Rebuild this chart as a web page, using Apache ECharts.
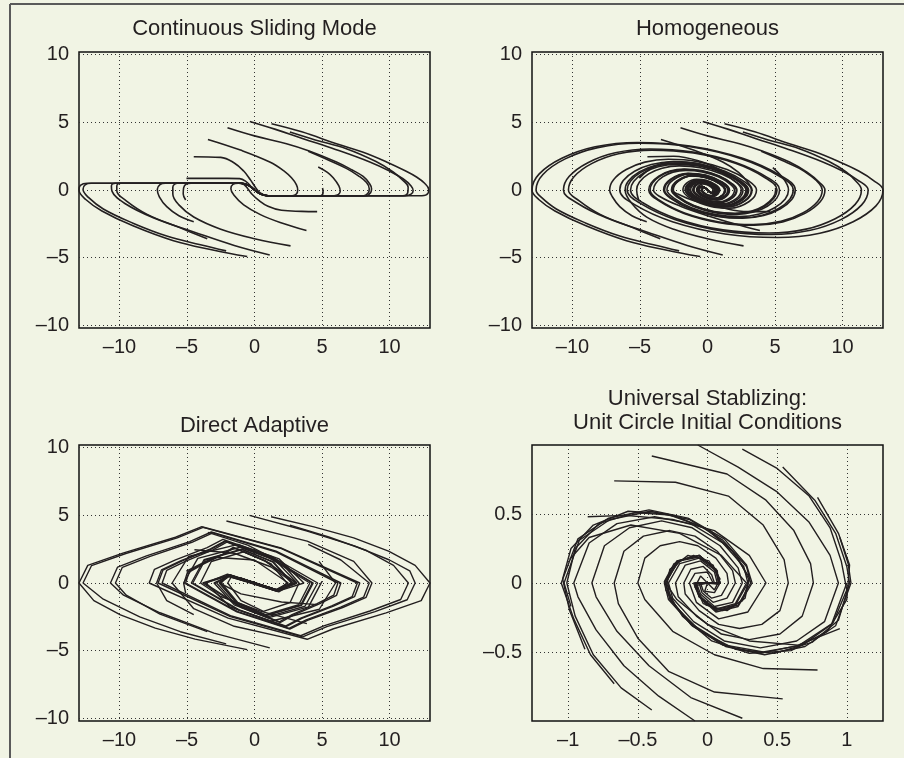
<!DOCTYPE html>
<html>
<head>
<meta charset="utf-8">
<script src="https://cdn.jsdelivr.net/npm/echarts@6.0.0/dist/echarts.min.js"></script>
<style>
html,body{margin:0;padding:0;background:#f1f4e4;}
#chart{width:904px;height:758px;}
</style>
</head>
<body>
<div id="chart"></div>
<script>
// ---------- titles and ticks ----------
const panelTitles = ['Continuous Sliding Mode', 'Homogeneous', 'Direct Adaptive', 'Universal Stablizing:\nUnit Circle Initial Conditions'];
const bigTicks = [-10, -5, 0, 5, 10];
const unitXTicks = [-1, -0.5, 0, 0.5, 1];
const unitYTicks = [-0.5, 0, 0.5];

// ---------- panel 1: continuous sliding mode ----------
const slidingPaths = [
 [[1.26,4.9],[3.5,4.3],[6.07,3.42],[8,2.8],[9.78,2.07],[11.2,1.4],[12.0,0.96],[12.6,0.5],[12.9,0.05],[12.85,-0.25],[12.4,-0.42],[1.0,-0.42],[0.45,-0.3],[0,0]],
 [[-0.35,5.07],[1.5,4.5],[3.6,3.79],[6,3.0],[8.54,2.07],[10,1.4],[11.0,0.83],[11.6,0.3],[11.75,-0.05],[11.6,-0.3],[11.2,-0.42],[1.0,-0.42],[0.45,-0.3],[0,0]],
 [[2.62,4.28],[4.5,3.7],[6.8,3.05],[9,2.1],[10.27,1.33],[11.0,0.7],[11.38,0.2],[11.35,-0.2],[11.0,-0.42],[1.0,-0.42],[0.45,-0.3],[0,0]],
 [[-2.0,4.6],[0,4.0],[2.37,3.42],[4,2.9],[6.07,2.07],[7.2,1.5],[8.05,1.0],[8.5,0.5],[8.67,0.1],[8.6,-0.2],[8.3,-0.42],[1.0,-0.42],[0.45,-0.3],[0,0]],
 [[3.98,2.86],[5.5,2.2],[6.8,1.6],[7.7,1.05],[8.3,0.55],[8.5,0.1],[8.42,-0.22],[8.1,-0.42],[1.0,-0.42],[0.45,-0.3],[0,0]],
 [[4.72,1.7],[5.4,1.3],[5.83,0.9],[6.25,0.3],[6.35,-0.1],[6.2,-0.35],[5.9,-0.42],[1.0,-0.42],[0.45,-0.3],[0,0]],
 [[5.04,0.15],[5.08,-0.15],[4.9,-0.42],[1.0,-0.42],[0.45,-0.3],[0,0]],
 [[-3.45,3.74],[-1.04,2.95],[1.13,2.07],[2.2,1.4],[2.74,0.9],[3.1,0.4],[3.2,0],[3.1,-0.3],[2.8,-0.42],[1.0,-0.42],[0.45,-0.3],[0,0]],
 [[-4.5,2.46],[-2.5,2.41],[-1.5,2.0],[-0.8,1.4],[-0.3,0.75],[0.1,0.15],[0.4,-0.2],[0.75,-0.38],[1.1,-0.42]],
 [[-5.04,0.86],[-2,0.86],[-1.1,0.84],[-0.6,0.6],[-0.2,0.2],[0,0]],
 [[-0.54,-4.92],[-3,-4.45],[-6,-3.75],[-9,-2.65],[-11.3,-1.55],[-12.5,-0.7],[-13,0],[-12.9,0.35],[-12.4,0.5],[-1.0,0.5],[-0.45,0.35],[0,0]],
 [[-2.1,-4.5],[-4,-4.05],[-6.5,-3.4],[-9,-2.45],[-11.2,-1.4],[-12.3,-0.55],[-12.7,0.05],[-12.55,0.38],[-12.1,0.5],[-1.0,0.5],[-0.45,0.35],[0,0]],
 [[1.13,-4.8],[-1.5,-4.1],[-4.5,-3.1],[-7.5,-2.05],[-9.6,-1.0],[-10.55,-0.1],[-10.6,0.3],[-10.3,0.5],[-1.0,0.5],[-0.45,0.35],[0,0]],
 [[-3.5,-3.6],[-5.5,-2.8],[-7.95,-1.8],[-9.5,-0.8],[-10.2,-0.05],[-10.2,0.3],[-9.9,0.5],[-1.0,0.5],[-0.45,0.35],[0,0]],
 [[2.67,-4.13],[0,-3.6],[-2.5,-2.9],[-4.5,-2.0],[-5.6,-1.1],[-6.05,-0.3],[-6.05,0.2],[-5.7,0.5],[-1.0,0.5],[-0.45,0.35],[0,0]],
 [[-4.5,-2.34],[-5.6,-1.9],[-6.5,-1.23],[-7.05,-0.5],[-7.2,0.05],[-7.0,0.4],[-6.6,0.5],[-1.0,0.5],[-0.45,0.35],[0,0]],
 [[-5.1,-0.74],[-5.28,-0.3],[-5.25,0.15],[-5.05,0.45],[-4.7,0.5],[-1.0,0.5],[-0.45,0.35],[0,0]],
 [[3.85,-3.0],[1.9,-2.4],[0.4,-1.8],[-0.8,-1.1],[-1.5,-0.4],[-1.75,0.1],[-1.6,0.42],[-1.2,0.5],[-0.45,0.35],[0,0]],
 [[4.64,-1.6],[3.5,-1.58],[2,-1.5],[1.0,-1.2],[0.3,-0.75],[-0.2,-0.3],[-0.5,0.1],[-0.8,0.42],[-1.1,0.5]]
];

// ---------- panel 2: homogeneous ----------
const homogeneousPaths = [
 [[1.26,4.9],[3.5,4.3],[6.07,3.42],[8,2.8],[9.78,2.07],[11.2,1.4],[12.3,0.7],[13,0],[12.48,-1.17],[10.79,-2.34],[8.32,-3.19],[5.2,-3.51],[1.3,-3.25],[-2.6,-2.34],[-5.46,-1.04],[-6.5,0],[-6.24,0.7],[-5.4,1.39],[-4.16,1.89],[-2.6,2.09],[-0.65,1.93],[1.3,1.39],[2.73,0.62],[3.25,0],[2.76,-0.78],[1.46,-1.24],[0.16,-1.1],[-1.07,-0.6],[-1.63,0],[-1.39,0.47],[-0.73,0.74],[-0.08,0.66],[0.54,0.36],[0.81,0],[0.69,-0.28],[0.36,-0.44],[0.04,-0.39],[-0.27,-0.21],[-0.41,0],[-0.25,0.2],[0,0]],
 [[-0.35,5.07],[1.5,4.5],[3.6,3.79],[6,3.0],[8.54,2.07],[10,1.4],[11.1,0.75],[11.9,0],[11.42,-1.1],[9.88,-2.19],[7.62,-2.98],[4.76,-3.29],[1.19,-3.04],[-2.38,-2.19],[-5.0,-0.97],[-5.95,0],[-5.71,0.65],[-4.94,1.3],[-3.81,1.77],[-2.38,1.95],[-0.6,1.81],[1.19,1.3],[2.5,0.58],[2.98,0],[2.53,-0.73],[1.34,-1.16],[0.15,-1.03],[-0.98,-0.56],[-1.49,0],[-1.27,0.44],[-0.67,0.69],[-0.07,0.61],[0.49,0.33],[0.75,0],[0.64,-0.26],[0.34,-0.41],[0.04,-0.37],[-0.25,-0.2],[-0.38,0],[-0.22,0.18],[0,0]],
 [[2.62,4.28],[4.5,3.7],[6.8,3.05],[9,2.1],[10.27,1.33],[11.0,0.65],[11.4,0],[10.94,-1.06],[9.46,-2.12],[7.3,-2.89],[4.56,-3.18],[1.14,-2.95],[-2.28,-2.12],[-4.79,-0.94],[-5.7,0],[-5.47,0.63],[-4.73,1.26],[-3.65,1.72],[-2.28,1.89],[-0.57,1.75],[1.14,1.26],[2.39,0.56],[2.85,0],[2.42,-0.71],[1.28,-1.13],[0.14,-1.0],[-0.94,-0.54],[-1.43,0],[-1.22,0.42],[-0.64,0.67],[-0.07,0.6],[0.47,0.32],[0.72,0],[0.45,-0.3],[0,0]],
 [[-2.0,4.6],[0,4.0],[2.37,3.42],[4,2.9],[6.07,2.07],[7.4,1.3],[8.3,0.55],[8.7,0],[8.35,-0.87],[7.22,-1.73],[5.57,-2.36],[3.48,-2.6],[0.87,-2.41],[-1.74,-1.73],[-3.65,-0.77],[-4.35,0],[-4.18,0.51],[-3.61,1.03],[-2.78,1.4],[-1.74,1.54],[-0.44,1.43],[0.87,1.03],[1.83,0.46],[2.18,0],[1.85,-0.58],[0.98,-0.92],[0.11,-0.82],[-0.72,-0.44],[-1.09,0],[-0.93,0.35],[-0.49,0.55],[-0.05,0.49],[0.36,0.26],[0.55,0],[0.35,-0.22],[0,0]],
 [[3.98,2.86],[5.5,2.2],[6.8,1.6],[7.7,1.0],[8.3,0.45],[8.5,0],[8.16,-0.85],[7.06,-1.7],[5.44,-2.32],[3.4,-2.55],[0.85,-2.36],[-1.7,-1.7],[-3.57,-0.76],[-4.25,0],[-4.08,0.51],[-3.53,1.01],[-2.72,1.38],[-1.7,1.52],[-0.43,1.41],[0.85,1.01],[1.79,0.45],[2.13,0],[1.81,-0.57],[0.96,-0.9],[0.11,-0.8],[-0.7,-0.44],[-1.07,0],[-0.91,0.34],[-0.48,0.54],[-0.05,0.48],[0.35,0.26],[0.54,0],[0.33,-0.2],[0,0]],
 [[4.84,1.65],[5.5,1.0],[5.9,0.4],[6.0,0],[5.76,-0.66],[4.98,-1.31],[3.84,-1.78],[2.4,-1.97],[0.6,-1.82],[-1.2,-1.31],[-2.52,-0.58],[-3.0,0],[-2.55,0.74],[-1.35,1.17],[-0.15,1.04],[0.99,0.56],[1.5,0],[1.28,-0.44],[0.68,-0.69],[0.08,-0.62],[-0.5,-0.33],[-0.75,0],[-0.45,0.28],[0,0]],
 [[5.04,0.15],[5.05,0],[4.85,-0.58],[4.19,-1.15],[3.23,-1.57],[2.02,-1.73],[0.51,-1.6],[-1.01,-1.15],[-2.12,-0.51],[-2.53,0],[-2.15,0.65],[-1.14,1.03],[-0.13,0.91],[0.83,0.5],[1.27,0],[1.08,-0.39],[0.57,-0.61],[0.06,-0.54],[-0.42,-0.3],[-0.64,0],[-0.38,0.25],[0,0]],
 [[-3.45,3.74],[-1.04,2.95],[1.13,2.07],[2.3,1.3],[3.0,0.55],[3.3,0],[2.81,-0.79],[1.49,-1.26],[0.17,-1.12],[-1.09,-0.6],[-1.65,0],[-1.4,0.47],[-0.74,0.75],[-0.08,0.66],[0.54,0.36],[0.83,0],[0.5,-0.3],[0,0]],
 [[-4.45,2.46],[-2.5,2.5],[-0.5,2.1],[1.3,1.3],[2.5,0.5],[2.9,0],[2.47,-0.72],[1.31,-1.14],[0.15,-1.01],[-0.96,-0.55],[-1.45,0],[-1.23,0.43],[-0.65,0.68],[-0.07,0.6],[0.48,0.33],[0.73,0],[0.45,-0.28],[0,0]],
 [[-5.05,0.88],[-4,1.7],[-2.5,2.1],[-0.5,1.9],[1.2,1.2],[2.2,0.5],[2.5,0],[2.13,-0.64],[1.13,-1.02],[0.13,-0.91],[-0.83,-0.49],[-1.25,0],[-1.06,0.38],[-0.56,0.6],[-0.06,0.54],[0.41,0.29],[0.63,0],[0.38,-0.25],[0,0]],
 [[-0.54,-4.92],[-3,-4.45],[-6,-3.75],[-9,-2.65],[-11.3,-1.55],[-12.5,-0.7],[-13,0],[-12.48,1.17],[-10.79,2.34],[-8.32,3.19],[-5.2,3.51],[-1.3,3.25],[2.6,2.34],[5.46,1.04],[6.5,0],[6.24,-0.7],[5.4,-1.39],[4.16,-1.89],[2.6,-2.09],[0.65,-1.93],[-1.3,-1.39],[-2.73,-0.62],[-3.25,0],[-2.76,0.78],[-1.46,1.24],[-0.16,1.1],[1.07,0.6],[1.63,0],[1.39,-0.47],[0.73,-0.74],[0.08,-0.66],[-0.54,-0.36],[-0.81,0],[-0.69,0.28],[-0.36,0.44],[-0.04,0.39],[0.27,0.21],[0.41,0],[0.25,-0.2],[0,0]],
 [[-2.1,-4.5],[-4,-4.05],[-6.5,-3.4],[-9,-2.45],[-11.2,-1.4],[-12.3,-0.55],[-12.7,0],[-12.19,1.15],[-10.54,2.3],[-8.13,3.13],[-5.08,3.45],[-1.27,3.2],[2.54,2.3],[5.33,1.02],[6.35,0],[6.1,-0.68],[5.27,-1.37],[4.06,-1.86],[2.54,-2.05],[0.64,-1.9],[-1.27,-1.37],[-2.67,-0.61],[-3.18,0],[-2.7,0.77],[-1.43,1.22],[-0.16,1.08],[1.05,0.59],[1.59,0],[1.35,-0.46],[0.72,-0.73],[0.08,-0.65],[-0.52,-0.35],[-0.8,0],[-0.48,0.3],[0,0]],
 [[1.13,-4.8],[-1.5,-4.1],[-4.5,-3.1],[-7.5,-2.05],[-9.6,-1.0],[-10.67,0],[-10.24,1.01],[-8.86,2.02],[-6.83,2.75],[-4.27,3.03],[-1.07,2.8],[2.13,2.02],[4.48,0.9],[5.34,0],[5.13,-0.6],[4.43,-1.2],[3.42,-1.63],[2.14,-1.8],[0.53,-1.67],[-1.07,-1.2],[-2.24,-0.53],[-2.67,0],[-2.27,0.67],[-1.2,1.07],[-0.13,0.95],[0.88,0.52],[1.34,0],[1.14,-0.4],[0.6,-0.64],[0.07,-0.57],[-0.44,-0.31],[-0.67,0],[-0.4,0.26],[0,0]],
 [[-3.5,-3.6],[-5.5,-2.8],[-7.95,-1.8],[-9.5,-0.8],[-10.3,0],[-9.89,0.98],[-8.55,1.97],[-6.59,2.68],[-4.12,2.95],[-1.03,2.73],[2.06,1.97],[4.33,0.87],[5.15,0],[4.94,-0.58],[4.27,-1.17],[3.3,-1.59],[2.06,-1.75],[0.52,-1.62],[-1.03,-1.17],[-2.16,-0.52],[-2.58,0],[-2.19,0.66],[-1.16,1.04],[-0.13,0.93],[0.85,0.5],[1.29,0],[1.1,-0.39],[0.58,-0.62],[0.06,-0.55],[-0.43,-0.3],[-0.65,0],[-0.38,0.25],[0,0]],
 [[2.67,-4.13],[0,-3.6],[-2.5,-2.9],[-4.5,-2.0],[-5.6,-1.0],[-6.1,0],[-5.86,0.66],[-5.06,1.33],[-3.9,1.81],[-2.44,1.99],[-0.61,1.84],[1.22,1.33],[2.56,0.59],[3.05,0],[2.59,-0.74],[1.37,-1.18],[0.15,-1.05],[-1.01,-0.57],[-1.53,0],[-1.3,0.44],[-0.69,0.7],[-0.08,0.63],[0.5,0.34],[0.77,0],[0.48,-0.3],[0,0]],
 [[-4.5,-2.34],[-5.6,-1.9],[-6.5,-1.23],[-7.05,-0.5],[-7.25,0],[-6.96,0.76],[-6.02,1.51],[-4.64,2.06],[-2.9,2.27],[-0.73,2.1],[1.45,1.51],[3.05,0.67],[3.63,0],[3.09,-0.85],[1.63,-1.35],[0.18,-1.2],[-1.2,-0.65],[-1.82,0],[-1.55,0.51],[-0.82,0.8],[-0.09,0.72],[0.6,0.39],[0.91,0],[0.77,-0.3],[0.41,-0.48],[0.05,-0.42],[-0.3,-0.23],[-0.46,0],[-0.27,0.2],[0,0]],
 [[-5.1,-0.74],[-5.25,0],[-5.04,0.59],[-4.36,1.19],[-3.36,1.61],[-2.1,1.78],[-0.53,1.65],[1.05,1.19],[2.21,0.53],[2.63,0],[2.24,-0.67],[1.18,-1.06],[0.13,-0.94],[-0.87,-0.51],[-1.32,0],[-1.12,0.4],[-0.59,0.63],[-0.07,0.56],[0.44,0.3],[0.66,0],[0.4,-0.26],[0,0]],
 [[3.88,-3.0],[2,-2.5],[0,-1.9],[-2,-1.2],[-3.5,-0.5],[-4.0,0],[-3.84,0.48],[-3.32,0.97],[-2.56,1.32],[-1.6,1.45],[-0.4,1.34],[0.8,0.97],[1.68,0.43],[2.0,0],[1.7,-0.54],[0.9,-0.86],[0.1,-0.77],[-0.66,-0.41],[-1.0,0],[-0.85,0.32],[-0.45,0.51],[-0.05,0.46],[0.33,0.25],[0.5,0],[0.3,-0.2],[0,0]],
 [[4.66,-1.6],[3,-1.6],[1,-1.3],[-1,-0.8],[-2.2,-0.3],[-2.6,0],[-2.21,0.66],[-1.17,1.05],[-0.13,0.93],[0.86,0.51],[1.3,0],[1.11,-0.39],[0.59,-0.62],[0.07,-0.55],[-0.43,-0.3],[-0.65,0],[-0.4,0.25],[0,0]]
];

// ---------- panel 3: direct adaptive ----------
const adaptivePaths = [
 [[1.23,4.9],[4.4,4.15],[7.35,3.34],[9.93,2.35],[11.9,1.3],[13,0],[12.35,-1.3],[9.75,-2.21],[5.85,-3.38],[3.9,-4.16],[-1.95,-2.6],[-7.8,0],[-7.41,1.01],[-5.85,1.71],[-3.51,2.62],[-2.34,3.22],[1.17,2.01],[4.68,0],[3.74,-1.72],[0.94,-2.5],[-1.4,-1.56],[-2.81,0],[-1.9,0.6],[1.7,-0.55],[-1.0,0.35],[0.6,-0.2],[-0.1,0]],
 [[-0.37,5.0],[3.9,3.84],[7.4,2.75],[10.0,1.7],[11.5,0.9],[11.9,0],[11.31,-1.24],[8.93,-2.11],[5.36,-3.23],[3.57,-3.98],[-1.79,-2.49],[-7.14,0],[-6.78,0.96],[-5.36,1.64],[-3.21,2.5],[-2.14,3.08],[1.07,1.93],[4.28,0],[3.42,-1.64],[0.86,-2.39],[-1.28,-1.49],[-2.57,0],[-1.8,0.55],[1.6,-0.5],[-0.9,0.3],[0.5,-0.15],[0,0]],
 [[2.62,4.28],[5.5,3.4],[8.3,2.4],[10.3,1.3],[11.4,0],[10.83,-1.22],[8.55,-2.07],[5.13,-3.17],[3.42,-3.9],[-1.71,-2.44],[-6.84,0],[-6.5,0.94],[-5.13,1.6],[-3.08,2.45],[-2.05,3.02],[1.03,1.89],[4.1,0],[3.28,-1.61],[0.82,-2.34],[-1.23,-1.46],[-2.46,0],[-1.95,0.6],[1.75,-0.6],[-1.1,0.4],[0.7,-0.25],[-0.1,0.05]],
 [[-2.08,4.58],[3.9,3.1],[7.35,1.6],[8.7,0],[8.27,-1.06],[6.53,-1.81],[3.92,-2.76],[2.61,-3.4],[-1.31,-2.13],[-5.22,0],[-4.96,0.82],[-3.92,1.4],[-2.35,2.14],[-1.57,2.64],[0.78,1.65],[3.13,0],[1.7,-0.6],[-1.9,0.55],[1.0,-0.35],[-0.6,0.2],[0.1,0]],
 [[3.98,2.86],[6.4,1.7],[8.5,0],[8.08,-1.05],[6.38,-1.79],[3.83,-2.73],[2.55,-3.36],[-1.28,-2.1],[-5.1,0],[-4.85,0.81],[-3.83,1.38],[-2.3,2.12],[-1.53,2.6],[0.77,1.63],[3.06,0],[1.6,-0.55],[-1.8,0.5],[1.1,-0.4],[-0.5,0.15],[0,0]],
 [[4.78,1.6],[6.0,0],[4.8,-1.94],[1.2,-2.83],[-1.8,-1.77],[-3.6,0],[-2.0,0.65],[1.8,-0.6],[-1.2,0.4],[0.6,-0.2],[0,0]],
 [[5.0,0.12],[4.0,-1.77],[1.0,-2.58],[-1.5,-1.61],[-3.0,0],[-1.85,0.55],[1.65,-0.5],[-1.0,0.3],[0.4,-0.1],[0,0]],
 [[-3.45,3.74],[-0.5,2.8],[2.0,1.5],[3.3,0],[2.64,-1.44],[0.66,-2.1],[-0.99,-1.31],[-1.98,0],[-1.7,0.5],[1.5,-0.45],[-0.8,0.25],[0,0]],
 [[-4.45,2.46],[-1.5,2.2],[1.2,1.2],[2.9,0],[1.8,-0.65],[-1.9,0.5],[1.2,-0.35],[-0.5,0.15],[0,0]],
 [[-5.05,0.88],[-3,1.9],[0,1.7],[2.5,0],[1.5,-0.55],[-2.0,0.6],[0.9,-0.3],[-0.4,0.1],[0,0]],
 [[-0.54,-4.92],[-4.4,-4.15],[-7.35,-3.34],[-9.93,-2.35],[-11.9,-1.3],[-13,0],[-12.35,1.3],[-9.75,2.21],[-5.85,3.38],[-3.9,4.16],[1.95,2.6],[7.8,0],[7.41,-1.01],[5.85,-1.71],[3.51,-2.62],[2.34,-3.22],[-1.17,-2.01],[-4.68,0],[-3.74,1.72],[-0.94,2.5],[1.4,1.56],[2.81,0],[1.7,-0.6],[-1.9,0.55],[1.0,-0.35],[-0.6,0.2],[0.1,0]],
 [[-2.1,-4.5],[-5.5,-3.6],[-8.5,-2.5],[-11.2,-1.2],[-12.7,0],[-12.07,1.29],[-9.53,2.18],[-5.72,3.34],[-3.81,4.11],[1.91,2.57],[7.62,0],[7.24,-1.0],[5.72,-1.69],[3.43,-2.59],[2.29,-3.18],[-1.14,-1.99],[-4.57,0],[-3.66,1.7],[-0.91,2.47],[1.37,1.54],[2.74,0],[1.6,-0.5],[-1.8,0.6],[1.1,-0.4],[-0.5,0.15],[0,0]],
 [[1.13,-4.8],[-3,-3.7],[-7,-2.2],[-9.7,-0.9],[-10.67,0],[-10.14,1.18],[-8.0,2.0],[-4.8,3.06],[-3.2,3.77],[1.6,2.36],[6.4,0],[6.08,-0.91],[4.8,-1.55],[2.88,-2.37],[1.92,-2.92],[-0.96,-1.82],[-3.84,0],[-1.9,0.6],[1.7,-0.55],[-1.0,0.35],[0.6,-0.2],[-0.1,0]],
 [[-3.5,-3.6],[-7,-2.3],[-9.5,-0.9],[-10.3,0],[-9.79,1.16],[-7.73,1.97],[-4.64,3.01],[-3.09,3.7],[1.55,2.31],[6.18,0],[5.87,-0.9],[4.64,-1.52],[2.78,-2.33],[1.85,-2.87],[-0.93,-1.79],[-3.71,0],[-2.0,0.5],[1.8,-0.55],[-1.1,0.3],[0.5,-0.15],[0,0]],
 [[2.67,-4.13],[-1.5,-3.2],[-4.5,-1.9],[-6.1,0],[-4.88,1.96],[-1.22,2.85],[1.83,1.78],[3.66,0],[1.75,-0.6],[-1.85,0.55],[1.1,-0.35],[-0.5,0.15],[0,0]],
 [[3.88,-3.0],[0.5,-2.1],[-2.5,-1.0],[-4.0,0],[-3.2,1.59],[-0.8,2.31],[1.2,1.44],[2.4,0],[1.7,-0.55],[-1.9,0.6],[1.0,-0.35],[-0.5,0.15],[0,0]],
 [[4.66,-1.6],[2.0,-1.4],[-1.0,-0.8],[-2.6,0],[-2.0,0.55],[1.6,-0.5],[-1.0,0.3],[0.5,-0.15],[0,0]],
 [[-4.5,-2.34],[-6.5,-1.3],[-7.25,0],[-6.89,0.97],[-5.44,1.65],[-3.26,2.52],[-2.18,3.11],[1.09,1.94],[4.35,0],[3.48,-1.65],[0.87,-2.41],[-1.31,-1.5],[-2.61,0],[-1.8,0.6],[1.6,-0.5],[-0.9,0.3],[0.4,-0.1],[0,0]],
 [[-5.1,-0.74],[-5.25,0],[-4.2,1.82],[-1.05,2.64],[1.58,1.65],[3.15,0],[1.6,-0.6],[-1.7,0.5],[0.9,-0.3],[-0.3,0.1],[0,0]]
];

// ---------- panel 4: universal stabilizing, unit circle initial conditions ----------
const universalPaths = [
 [[1.0,0],[0.89,-0.3],[0.68,-0.45],[0.4,-0.5],[0.13,-0.45],[-0.11,-0.3],[-0.27,-0.12],[-0.3,0],[-0.21,0.16],[-0.06,0.2],[0.06,0.1],[0.09,0],[0.05,-0.07],[-0.02,-0.06],[0,0]],
 [[0.95,0.33],[1.01,0.14],[1.03,0],[0.92,-0.31],[0.7,-0.46],[0.41,-0.52],[0.13,-0.46],[-0.11,-0.31],[-0.28,-0.12],[-0.31,0],[-0.22,0.16],[-0.06,0.2],[0.06,0.1],[0.09,0],[0,0]],
 [[0.79,0.62],[0.94,0.36],[1.02,0.13],[1.0,-0.12],[0.86,-0.35],[0.6,-0.49],[0.3,-0.51],[0.03,-0.42],[-0.18,-0.24],[-0.3,-0.05],[-0.27,0.1],[-0.14,0.2],[0.01,0.16],[0.09,0.03],[0.05,-0.05],[0,0]],
 [[0.54,0.84],[0.77,0.6],[0.92,0.36],[1.0,0.12],[1.02,0],[0.94,-0.27],[0.75,-0.43],[0.48,-0.51],[0.2,-0.48],[-0.05,-0.35],[-0.23,-0.17],[-0.31,0.01],[-0.24,0.14],[-0.1,0.2],[0.04,0.13],[0.09,0],[0,0]],
 [[0.25,0.97],[0.5,0.83],[0.73,0.63],[0.88,0.4],[0.96,0.16],[1.0,-0.05],[0.9,-0.29],[0.66,-0.45],[0.38,-0.51],[0.11,-0.45],[-0.12,-0.3],[-0.27,-0.11],[-0.29,0.04],[-0.2,0.16],[-0.05,0.19],[0.07,0.09],[0.08,-0.01],[0,0]],
 [[-0.07,1.0],[0.22,0.84],[0.5,0.66],[0.73,0.44],[0.88,0.2],[0.94,0],[0.84,-0.28],[0.64,-0.42],[0.38,-0.47],[0.12,-0.42],[-0.1,-0.28],[-0.25,-0.11],[-0.28,0],[-0.2,0.14],[-0.06,0.18],[0.06,0.09],[0.08,0],[0,0]],
 [[-0.4,0.92],[0.14,0.79],[0.42,0.6],[0.62,0.38],[0.74,0.14],[0.76,0],[0.68,-0.24],[0.52,-0.37],[0.3,-0.41],[0.1,-0.37],[-0.08,-0.24],[-0.21,-0.1],[-0.23,0],[-0.16,0.13],[-0.05,0.16],[0.05,0.08],[0.07,0],[0,0]],
 [[-0.67,0.74],[-0.23,0.73],[0.15,0.63],[0.4,0.42],[0.55,0.17],[0.58,0],[0.52,-0.2],[0.39,-0.3],[0.23,-0.33],[0.08,-0.3],[-0.06,-0.2],[-0.16,-0.08],[-0.17,0],[-0.12,0.1],[-0.03,0.12],[0.03,0.06],[0.05,0],[0,0]],
 [[-0.86,0.48],[-0.59,0.49],[-0.25,0.46],[0.05,0.38],[0.3,0.2],[0.42,0],[0.29,-0.21],[0.08,-0.26],[-0.08,-0.14],[-0.13,0],[-0.09,0.07],[0,0.08],[0.04,0],[0,0]],
 [[-0.99,0.17],[-0.85,0.33],[-0.55,0.42],[-0.2,0.36],[0.1,0.2],[0.28,0],[0.2,-0.15],[0.06,-0.19],[-0.06,-0.1],[-0.08,0],[0,0]],
 [[-0.98,-0.17],[-1.03,0],[-0.92,0.31],[-0.7,0.46],[-0.41,0.52],[-0.13,0.46],[0.11,0.31],[0.28,0.12],[0.31,0],[0.22,-0.16],[0.06,-0.2],[-0.06,-0.1],[-0.09,0],[0,0]],
 [[-0.88,-0.48],[-0.99,-0.2],[-1.04,0.03],[-0.98,0.25],[-0.82,0.42],[-0.57,0.52],[-0.29,0.5],[-0.02,0.4],[0.18,0.23],[0.3,0.04],[0.27,-0.11],[0.14,-0.2],[-0.01,-0.16],[-0.09,-0.03],[-0.05,0.05],[0,0]],
 [[-0.67,-0.73],[-0.84,-0.52],[-0.96,-0.26],[-1.05,0],[-0.93,0.32],[-0.71,0.47],[-0.42,0.53],[-0.14,0.47],[0.12,0.32],[0.28,0.13],[0.32,0],[0.22,-0.17],[0.06,-0.21],[-0.06,-0.1],[-0.1,0],[0,0]],
 [[-0.4,-0.92],[-0.62,-0.76],[-0.82,-0.52],[-0.95,-0.24],[-1.01,0],[-0.95,0.25],[-0.78,0.43],[-0.52,0.51],[-0.24,0.49],[0.02,0.38],[0.21,0.2],[0.3,0.02],[0.25,-0.13],[0.11,-0.2],[-0.03,-0.15],[-0.09,-0.02],[0,0]],
 [[-0.09,-1.0],[-0.35,-0.82],[-0.6,-0.6],[-0.8,-0.34],[-0.93,-0.1],[-0.96,0],[-0.85,0.29],[-0.65,0.43],[-0.38,0.48],[-0.12,0.43],[0.11,0.29],[0.26,0.12],[0.29,0],[0.2,-0.16],[0.06,-0.19],[-0.06,-0.09],[-0.09,0],[0,0]],
 [[0.25,-0.98],[-0.12,-0.83],[-0.42,-0.6],[-0.65,-0.35],[-0.8,-0.1],[-0.83,0],[-0.74,0.27],[-0.56,0.4],[-0.33,0.45],[-0.11,0.4],[0.09,0.27],[0.22,0.11],[0.25,0],[0.18,-0.14],[0.05,-0.17],[-0.05,-0.08],[-0.08,0],[0,0]],
 [[0.54,-0.84],[0.05,-0.79],[-0.28,-0.64],[-0.5,-0.4],[-0.64,-0.15],[-0.67,0],[-0.6,0.23],[-0.46,0.34],[-0.27,0.38],[-0.09,0.34],[0.07,0.23],[0.18,0.09],[0.2,0],[0.14,-0.11],[0.04,-0.14],[-0.04,-0.07],[-0.06,0],[0,0]],
 [[0.79,-0.63],[0.4,-0.62],[0.05,-0.52],[-0.25,-0.35],[-0.45,-0.12],[-0.5,0],[-0.45,0.18],[-0.34,0.27],[-0.2,0.3],[-0.07,0.27],[0.06,0.18],[0.14,0.07],[0.15,0],[0.1,-0.09],[0.03,-0.11],[-0.03,-0.06],[-0.05,0],[0,0]],
 [[0.95,-0.33],[0.65,-0.45],[0.3,-0.42],[0,-0.3],[-0.22,-0.12],[-0.3,0],[-0.21,0.16],[-0.06,0.2],[0.06,0.1],[0.09,0],[0,0]]
];

// ---------- chart ----------
const ink = '#231f20';
const fontFamily = '"Liberation Sans", Arial, Helvetica, sans-serif';
const fmt = v => (v < 0 ? '\u2013' + String(Math.abs(v)) : String(v));

function makeAxis(gridIndex, min, max, ticks, isY) {
  return {
    type: 'value', gridIndex: gridIndex, min: min, max: max,
    axisLine: { show: false },
    axisTick: { show: false, customValues: ticks },
    axisLabel: { customValues: ticks, formatter: fmt, fontSize: 20, color: ink, fontFamily: fontFamily, margin: isY ? 10 : 9 },
    splitLine: { show: true, lineStyle: { color: '#333', width: 1, type: [1, 3] } }
  };
}

const gridBoxes = [
  { left: 79, top: 52, width: 351, height: 276 },
  { left: 532, top: 52, width: 351, height: 276 },
  { left: 79, top: 445, width: 351, height: 276 },
  { left: 532, top: 445, width: 351, height: 276 }
];

const xAxes = [
  makeAxis(0, -13, 13, bigTicks, false),
  makeAxis(1, -13, 13, bigTicks, false),
  makeAxis(2, -13, 13, bigTicks, false),
  makeAxis(3, -1.26, 1.26, unitXTicks, false)
];
const yAxes = [
  makeAxis(0, -10.2, 10.2, bigTicks, true),
  makeAxis(1, -10.2, 10.2, bigTicks, true),
  makeAxis(2, -10.2, 10.2, bigTicks, true),
  makeAxis(3, -1, 1, unitYTicks, true)
];

function pathSeries(paths, idx, smooth, width) {
  return paths.map(p => ({
    type: 'line', xAxisIndex: idx, yAxisIndex: idx, data: p,
    symbol: 'none', showSymbol: false, smooth: smooth, silent: true,
    lineStyle: { color: ink, width: width }, z: 3
  }));
}

const series = [].concat(
  pathSeries(slidingPaths, 0, 0.4, 1.6),
  pathSeries(homogeneousPaths, 1, 0.4, 1.6),
  pathSeries(adaptivePaths, 2, false, 1.4),
  pathSeries(universalPaths, 3, false, 1.4)
);

// title placement (centre x of each plot, centre y of each text line)
const titleAnchors = [[254.5, 29], [707.5, 29], [254.5, 425.5], [707.5, 398.5]];
const titleGraphics = [];
panelTitles.forEach((t, i) => {
  t.split('\n').forEach((line, j) => {
    titleGraphics.push({
      type: 'text', x: titleAnchors[i][0], y: titleAnchors[i][1] + j * 24.6, z: 10,
      style: { text: line, fill: ink, font: '22px ' + fontFamily, align: 'center', verticalAlign: 'middle' }
    });
  });
});

const frameGraphics = [
  { type: 'line', shape: { x1: 10, y1: 4, x2: 904, y2: 4 }, style: { stroke: '#5a5a5a', lineWidth: 2 }, z: 10 },
  { type: 'line', shape: { x1: 10, y1: 4, x2: 10, y2: 758 }, style: { stroke: '#5a5a5a', lineWidth: 2 }, z: 10 }
];

const chart = echarts.init(document.getElementById('chart'), null, { renderer: 'canvas' });
chart.setOption({
  animation: false,
  backgroundColor: '#f1f4e4',
  grid: gridBoxes.map(g => Object.assign({ show: true, borderColor: '#111', borderWidth: 1.5, backgroundColor: 'transparent' }, g)),
  xAxis: xAxes,
  yAxis: yAxes,
  series: series,
  graphic: { elements: titleGraphics.concat(frameGraphics) }
});
</script>
</body>
</html>
